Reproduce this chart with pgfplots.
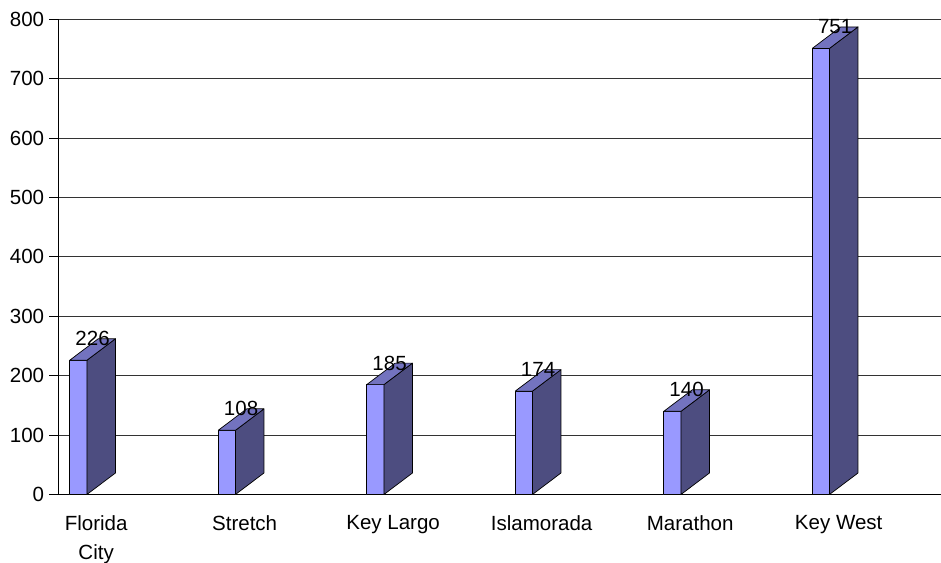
\documentclass[border=0pt]{standalone}
\usepackage{fontspec}
\setmainfont{Liberation Sans}
\usepackage{pgfplots}
\usepackage{pgfplotstable}
\pgfplotsset{compat=1.18}

\definecolor{barfront}{RGB}{153,153,255}
\definecolor{bartop}{RGB}{115,115,191}
\definecolor{barside}{RGB}{77,77,128}

% visitors per location
\pgfplotstableread{
x v
0 226
1 108
2 185
3 174
4 140
5 751
}\datatable

% bar geometry in axis units: front width, depth offset in x and y
\def\bw{0.116}
\def\ddx{0.192}
\def\ddy{36.2}

\begin{document}
\begin{tikzpicture}
\path[use as bounding box] (0,0) rectangle (941bp,563bp);
\begin{axis}[
  at={(58.3bp,68.5bp)}, anchor=south west,
  scale only axis,
  width=882.7bp, height=475.2bp,
  xmin=-0.1347, xmax=5.809,
  ymin=0, ymax=800,
  axis lines*=left,
  axis line style={black, line width=0.8bp},
  ytick={0,100,...,800},
  ymajorgrids,
  grid style={black!80, line width=0.8bp},
  tick align=outside,
  major tick length=9bp,
  ytick style={black, line width=0.8bp},
  xtick={0.12,1.12,2.12,3.12,4.12,5.12},
  xtick style={draw=none},
  xticklabels={{Florida\\City},Stretch,Key Largo,Islamorada,Marathon,Key West},
  /pgf/number format/assume math mode=true,
  tick label style={font=\fontsize{20.6}{29}\selectfont},
  xticklabel style={align=center, anchor=north, inner sep=0pt, yshift=-12bp},
  yticklabel style={anchor=east, inner sep=0pt, xshift=-5bp},
  frontface/.style={fill=barfront, draw=black, line width=0.7bp, line join=round},
  sideface/.style={fill=barside, draw=black, line width=0.7bp, line join=round},
  topface/.style={fill=bartop, draw=black, line width=0.7bp, line join=round},
  clip=false,
]
\pgfplotsinvokeforeach{0,...,5}{%
  \pgfplotstablegetelem{#1}{v}\of\datatable
  \pgfmathsetmacro\vv{\pgfplotsretval}%
  \pgfmathsetmacro\xl{#1-\bw/2}%
  \pgfmathsetmacro\xr{#1+\bw/2}%
  \pgfmathsetmacro\xlb{\xl+\ddx}%
  \pgfmathsetmacro\xrb{\xr+\ddx}%
  \pgfmathsetmacro\vt{\vv+\ddy}%
  \edef\drawbar{%
    \noexpand\addplot[frontface] coordinates {(\xl,0) (\xr,0) (\xr,\vv) (\xl,\vv) (\xl,0)};
    \noexpand\addplot[sideface] coordinates {(\xr,0) (\xrb,\ddy) (\xrb,\vt) (\xr,\vv) (\xr,0)};
    \noexpand\addplot[topface] coordinates {(\xl,\vv) (\xr,\vv) (\xrb,\vt) (\xlb,\vt) (\xl,\vv)};
  }\drawbar
}
% value labels above each bar
\addplot[draw=none, nodes near coords, point meta=explicit,
  every node near coord/.style={anchor=center, inner sep=0pt, font=\fontsize{20.6}{24}\selectfont}]
  table[x expr=\thisrow{x}+0.096, y expr=\thisrow{v}+36.2, meta=v] {\datatable};
\end{axis}
\end{tikzpicture}
\end{document}
